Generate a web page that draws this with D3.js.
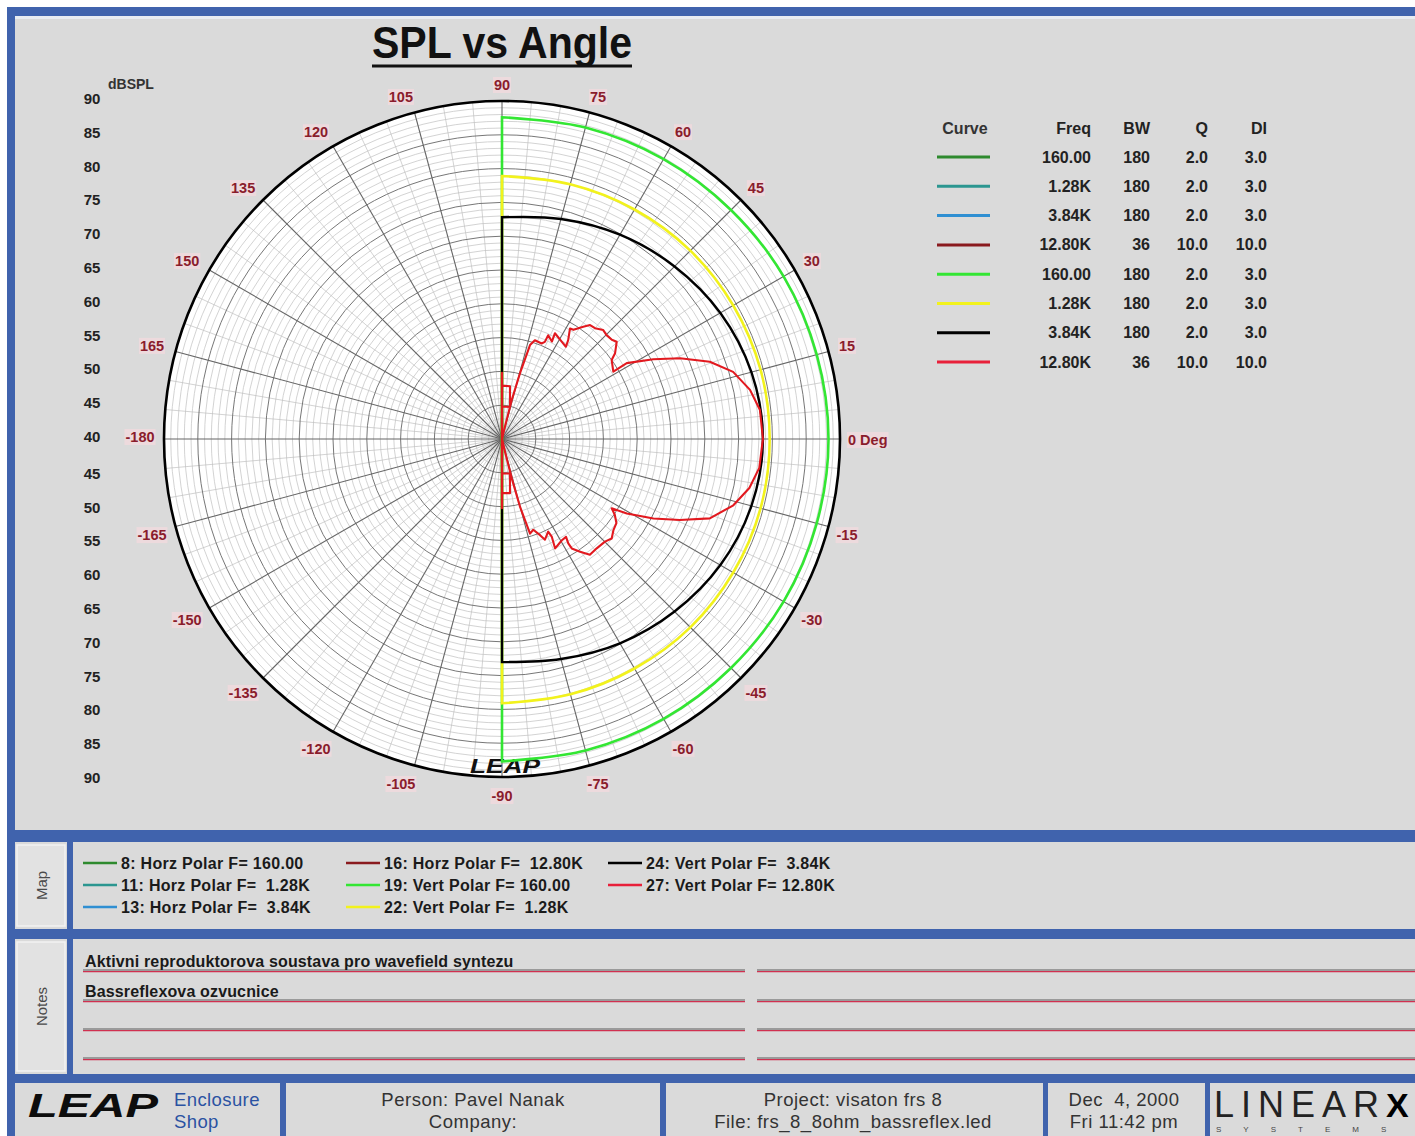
<!DOCTYPE html>
<html>
<head>
<meta charset="utf-8">
<script src="https://cdn.jsdelivr.net/npm/d3@7"></script>
<style>
  body { margin: 0; background: #ffffff; }
  svg { display: block; }
  text { font-family: "Liberation Sans", Arial, Helvetica, sans-serif; }
</style>
</head>
<body>
<svg id="chart" width="1415" height="1136"></svg>
<script>
// ---------- data ----------
const dbTicks = [90, 85, 80, 75, 70, 65, 60, 55, 50, 45, 40];
const angleTicks = [90, 75, 60, 45, 30, 15, 0, -15, -30, -45, -60, -75, -90,
                    -105, -120, -135, -150, -165, -180, 165, 150, 135, 120, 105];

// Front half sampled every 15 degrees (90 .. -90); the rear half sits at the 40 dB floor.
const curveAngles = [90, 75, 60, 45, 30, 15, 0, -15, -30, -45, -60, -75, -90];
const vert160 = [87.6, 87.7, 87.8, 87.9, 88.1, 88.2, 88.3, 88.2, 88.1, 87.9, 87.8, 87.7, 87.7];
const vert1k28 = [78.9, 79.0, 79.2, 79.4, 79.5, 79.6, 79.6, 79.6, 79.5, 79.4, 79.2, 79.1, 79.1];
const vert3k84 = [72.8, 73.7, 74.9, 76.1, 77.3, 78.2, 78.6, 78.2, 77.3, 76.1, 74.9, 73.7, 73.0];

// 12.8 kHz vertical polar traced as [angle, dBSPL] pairs.
const vert12k8 = [
  [90, 40], [90, 49.8], [90, 47.9], [81.4, 47.9], [76.0, 44.9], [90, 44.8], [90, 40],
  [76.7, 41.2], [76.0, 45.9], [74.7, 50.1], [73.4, 54.5], [71.6, 55.4], [67.5, 55.3],
  [66.2, 55.7], [66.0, 56.8], [62.9, 56.2], [63.4, 57.5], [58.5, 56.9], [55.3, 56.6],
  [56.2, 57.6], [58.4, 59.2], [56.8, 59.3], [54.1, 60.5], [52.3, 61.3], [50.0, 61.4],
  [47.1, 62.0], [44.8, 61.8], [42.1, 61.9], [40.3, 62.25], [37.2, 61.0], [35.8, 60.0],
  [31.2, 59.25], [31.3, 61.6], [27.8, 65.3], [24.4, 68.9], [20.4, 72.8], [16.2, 75.6],
  [11.2, 77.4], [6.4, 78.4], [0, 78.6],
  [-6.4, 78.3], [-11.2, 77.3], [-16.0, 75.6], [-20.9, 72.9], [-24.5, 68.9], [-27.7, 65.3],
  [-30.8, 61.5], [-32.3, 59.2], [-33.9, 60.1], [-36.3, 61.0], [-39.3, 61.3], [-42.2, 61.9],
  [-44.9, 61.5], [-49.1, 61.4], [-52.8, 61.5], [-55.3, 60.3], [-57.5, 59.2], [-57.6, 58.3],
  [-56.8, 57.3], [-59.4, 57.4], [-64.1, 58.0], [-63.0, 56.2], [-63.5, 55.3], [-66.9, 56.2],
  [-68.4, 55.3], [-71.0, 54.2], [-73.5, 54.6], [-75.1, 50.4], [-76.1, 46.0], [-76.7, 41.9],
  [-90, 40], [-90, 45.1], [-76.9, 45.2], [-81.6, 48.1], [-90, 48.0], [-90, 50.25], [-90, 40]
];

// Curve table / map legend
const curveIds = [8, 11, 13, 16, 19, 22, 24, 27];
const curvePlanes = ["Horz", "Horz", "Horz", "Horz", "Vert", "Vert", "Vert", "Vert"];
const freqLabels = ["160.00", "1.28K", "3.84K", "12.80K", "160.00", "1.28K", "3.84K", "12.80K"];
const mapFreqLabels = ["160.00", " 1.28K", " 3.84K", " 12.80K", "160.00", " 1.28K", " 3.84K", "12.80K"];
const bwValues = ["180", "180", "180", "36", "180", "180", "180", "36"];
const qValues = ["2.0", "2.0", "2.0", "10.0", "2.0", "2.0", "2.0", "10.0"];
const diValues = ["3.0", "3.0", "3.0", "10.0", "3.0", "3.0", "3.0", "10.0"];
const curveColors = ["#2e8a2e", "#2b9690", "#2f8fd2", "#8a1a1e", "#33e633", "#f2f21c", "#000000", "#e8203a"];

const notesLines = ["Aktivni reproduktorova soustava pro wavefield syntezu", "Bassreflexova ozvucnice", "", ""];

// ---------- frame ----------
const svg = d3.select("#chart");
const blue = "#4063ad";
const panel = "#dadada";

svg.append("rect").attr("x", 0).attr("y", 0).attr("width", 1415).attr("height", 1136).attr("fill", "#ffffff");
svg.append("rect").attr("x", 7).attr("y", 7).attr("width", 1408).attr("height", 1129).attr("fill", blue);
// main chart panel
svg.append("rect").attr("x", 15).attr("y", 16).attr("width", 1400).attr("height", 814).attr("fill", panel);
svg.append("rect").attr("x", 15).attr("y", 16).attr("width", 1400).attr("height", 3).attr("fill", "#e8ecf2");
// map panel
svg.append("rect").attr("x", 15).attr("y", 842).attr("width", 1400).attr("height", 87).attr("fill", panel);
// notes panel
svg.append("rect").attr("x", 15).attr("y", 939).attr("width", 1400).attr("height", 135).attr("fill", panel);
// vertical divider for map/notes tabs
svg.append("rect").attr("x", 67).attr("y", 842).attr("width", 6).attr("height", 87).attr("fill", blue);
svg.append("rect").attr("x", 67).attr("y", 939).attr("width", 6).attr("height", 135).attr("fill", blue);

// tabs
[[842, 87, "Map"], [939, 135, "Notes"]].forEach(([y, h, label]) => {
  svg.append("rect").attr("x", 17).attr("y", y + 3).attr("width", 48).attr("height", h - 6)
    .attr("fill", "#e2e2e2").attr("stroke", "#f2f2f2").attr("stroke-width", 1.5);
  svg.append("text").attr("transform", `translate(41,${y + h / 2}) rotate(-90)`)
    .attr("text-anchor", "middle").attr("dominant-baseline", "central")
    .attr("font-size", 15).attr("fill", "#4a4a4a").text(label);
});

// ---------- polar plot ----------
const cx = 502, cy = 439, R = 338;
const rScale = d3.scaleLinear().domain([40, 90]).range([0, R]).clamp(true);
const aScale = d3.scaleLinear().domain([0, 90]).range([Math.PI / 2, 0]);   // degrees -> d3 radial angle
const g = svg.append("g").attr("transform", `translate(${cx},${cy})`);

g.append("circle").attr("r", R).attr("fill", "#ffffff");

// minor rings every 1 dB
g.selectAll("circle.minor").data(d3.range(41, 90).filter(d => d % 5 !== 0)).join("circle")
  .attr("class", "minor").attr("r", d => rScale(d)).attr("fill", "none")
  .attr("stroke", "#c0c0c0").attr("stroke-width", 0.7);
// minor spokes every 5 degrees
g.selectAll("line.minor").data(d3.range(0, 360, 5).filter(d => d % 15 !== 0)).join("line")
  .attr("class", "minor")
  .attr("x1", 0).attr("y1", 0)
  .attr("x2", d => R * Math.sin(aScale(d))).attr("y2", d => -R * Math.cos(aScale(d)))
  .attr("stroke", "#c0c0c0").attr("stroke-width", 0.7);
// major rings every 5 dB
g.selectAll("circle.major").data(d3.range(45, 90, 5)).join("circle")
  .attr("class", "major").attr("r", d => rScale(d)).attr("fill", "none")
  .attr("stroke", "#777").attr("stroke-width", 1);
// major spokes every 15 degrees
g.selectAll("line.major").data(d3.range(0, 360, 15)).join("line")
  .attr("class", "major")
  .attr("x1", 0).attr("y1", 0)
  .attr("x2", d => R * Math.sin(aScale(d))).attr("y2", d => -R * Math.cos(aScale(d)))
  .attr("stroke", "#666").attr("stroke-width", 1.1);

// watermark
g.append("text").attr("x", 3).attr("y", 334).attr("text-anchor", "middle")
  .attr("font-size", 21).attr("font-weight", 900).attr("font-style", "italic")
  .attr("textLength", 70).attr("lengthAdjust", "spacingAndGlyphs")
  .attr("fill", "#111").text("LEAP");

// outer boundary
g.append("circle").attr("r", R).attr("fill", "none").attr("stroke", "#000").attr("stroke-width", 2.6);

// curves
const radial = d3.lineRadial().angle(d => aScale(d[0])).radius(d => rScale(d[1]));
function frontCurve(vals) {
  const pts = curveAngles.map((a, i) => [a, vals[i]]);
  const arc = radial.curve(d3.curveCatmullRom)(pts);
  return "M0,0L" + arc.slice(1) + "L0,0";
}
g.append("path").attr("d", frontCurve(vert160)).attr("fill", "none")
  .attr("stroke", curveColors[4]).attr("stroke-width", 2.6);
g.append("path").attr("d", frontCurve(vert1k28)).attr("fill", "none")
  .attr("stroke", curveColors[5]).attr("stroke-width", 2.6);
g.append("path").attr("d", frontCurve(vert3k84)).attr("fill", "none")
  .attr("stroke", curveColors[6]).attr("stroke-width", 2.4);
g.append("path").attr("d", radial.curve(d3.curveLinear)(vert12k8)).attr("fill", "none")
  .attr("stroke", "#e2191f").attr("stroke-width", 2.1).attr("stroke-linejoin", "round");

// angle labels: front labels sit just outside the rim, rear labels a little further out
const angleG = g.append("g");
angleTicks.forEach(a => {
  const ang = aScale(a);
  const c = Math.sin(ang), s = Math.cos(ang);        // cos/sin of the math angle
  const dx = c > 0.01 ? 5 : (c < -0.01 ? -10 : 0);
  const dy = s < -0.01 ? 5 : -2;
  const isZero = a === 0;
  const t = angleG.append("text")
    .attr("x", isZero ? 346 : 352 * c + dx).attr("y", isZero ? 1 : -352 * s + dy)
    .attr("text-anchor", isZero ? "start" : "middle").attr("dominant-baseline", "central")
    .attr("font-size", 14.5).attr("font-weight", "bold").attr("fill", "#8a1c2c")
    .text(isZero ? "0 Deg" : String(a));
  const bb = t.node().getBBox();
  angleG.insert("rect", "text").attr("x", bb.x - 1).attr("y", bb.y).attr("width", bb.width + 2)
    .attr("height", bb.height).attr("fill", "#f1dadd").attr("opacity", 0.8);
});

// dB scale on the left
const dbLabels = dbTicks.map(v => ({ v, y: cy - rScale(v) - 2.5 }))
  .concat(dbTicks.slice(0, -1).reverse().map(v => ({ v, y: cy + rScale(v) + 0.5 })));
svg.append("g").selectAll("text").data(dbLabels).join("text")
  .attr("x", 92).attr("y", d => d.y).attr("text-anchor", "middle").attr("dominant-baseline", "central")
  .attr("font-size", 15).attr("font-weight", "bold").attr("fill", "#222").text(d => d.v);
svg.append("text").attr("x", 108).attr("y", 89).attr("font-size", 14).attr("font-weight", 600)
  .attr("fill", "#333").text("dBSPL");

// title
svg.append("text").attr("x", 502).attr("y", 58).attr("text-anchor", "middle")
  .attr("font-size", 44).attr("font-weight", "bold").attr("fill", "#111")
  .attr("textLength", 260).attr("lengthAdjust", "spacingAndGlyphs").text("SPL vs Angle");
svg.append("line").attr("x1", 372).attr("x2", 632).attr("y1", 66).attr("y2", 66)
  .attr("stroke", "#111").attr("stroke-width", 3);

// ---------- curve table ----------
const tbl = svg.append("g");
const rowY = i => 157 + i * 29.3;
const headers = [["Curve", 965, "middle"], ["Freq", 1091, "end"], ["BW", 1150, "end"], ["Q", 1208, "end"], ["DI", 1267, "end"]];
headers.forEach(([h, x, anchor]) => {
  tbl.append("text").attr("x", x).attr("y", 128).attr("text-anchor", anchor).attr("dominant-baseline", "central")
    .attr("font-size", 16).attr("font-weight", "bold").attr("fill", h === "Curve" ? "#333" : "#222").text(h);
});
curveIds.forEach((id, i) => {
  tbl.append("line").attr("x1", 937).attr("x2", 990).attr("y1", rowY(i)).attr("y2", rowY(i))
    .attr("stroke", curveColors[i]).attr("stroke-width", 3);
  [[freqLabels[i], 1091], [bwValues[i], 1150], [qValues[i], 1208], [diValues[i], 1267]].forEach(([v, x]) => {
    tbl.append("text").attr("x", x).attr("y", rowY(i)).attr("text-anchor", "end").attr("dominant-baseline", "central")
      .attr("font-size", 16).attr("font-weight", "bold").attr("fill", "#222").text(v);
  });
});

// ---------- map legend ----------
const mapCols = [83, 346, 608];
const mapRows = [863, 885, 907];
curveIds.forEach((id, i) => {
  const col = Math.floor(i / 3), row = i % 3;
  const x = mapCols[col], y = mapRows[row];
  svg.append("line").attr("x1", x).attr("x2", x + 34).attr("y1", y).attr("y2", y)
    .attr("stroke", curveColors[i]).attr("stroke-width", 2.5);
  svg.append("text").attr("x", x + 38).attr("y", y).attr("dominant-baseline", "central")
    .attr("font-size", 16).attr("font-weight", "bold").attr("letter-spacing", 0.3).attr("fill", "#1a1a1a")
    .style("white-space", "pre")
    .text(`${id}: ${curvePlanes[i]} Polar F= ${mapFreqLabels[i]}`);
});

// ---------- notes ----------
const noteRows = [970, 1000, 1029, 1058];
noteRows.forEach((y, i) => {
  [[83, 745], [757, 1415]].forEach(([x1, x2]) => {
    svg.append("line").attr("x1", x1).attr("x2", x2).attr("y1", y).attr("y2", y)
      .attr("stroke", "#5a5a5a").attr("stroke-width", 1.2);
    svg.append("line").attr("x1", x1).attr("x2", x2).attr("y1", y + 1.6).attr("y2", y + 1.6)
      .attr("stroke", "#d03050").attr("stroke-width", 1.3);
  });
  if (notesLines[i]) {
    svg.append("text").attr("x", 85).attr("y", y - 3).attr("font-size", 16).attr("font-weight", 600)
      .attr("letter-spacing", 0.15).attr("fill", "#1a1a1a").text(notesLines[i]);
  }
});

// ---------- footer ----------
const footY = 1083;
svg.append("rect").attr("x", 15).attr("y", footY).attr("width", 1400).attr("height", 53).attr("fill", panel);
[[280, 6], [660, 6], [1043, 5], [1205, 5]].forEach(([x, w]) => {
  svg.append("rect").attr("x", x).attr("y", footY).attr("width", w).attr("height", 53).attr("fill", blue);
});
svg.append("text").attr("x", 28).attr("y", 1117).attr("font-size", 34).attr("font-weight", 900)
  .attr("font-family", "'DejaVu Sans', sans-serif").attr("font-style", "italic")
  .attr("textLength", 130).attr("lengthAdjust", "spacingAndGlyphs").attr("fill", "#0d0d0d").text("LEAP");
svg.append("text").attr("x", 174).attr("y", 1106).attr("font-size", 18.5).attr("letter-spacing", 0.4)
  .attr("fill", "#2a52a2").text("Enclosure");
svg.append("text").attr("x", 174).attr("y", 1128).attr("font-size", 18.5).attr("letter-spacing", 0.4)
  .attr("fill", "#2a52a2").text("Shop");

const footCells = [
  [473, "Person: Pavel Nanak", "Company:"],
  [853, "Project: visaton frs 8", "File: frs_8_8ohm_bassreflex.led"],
  [1124, "Dec  4, 2000", "Fri 11:42 pm"]
];
footCells.forEach(([x, a, b]) => {
  svg.append("text").attr("x", x).attr("y", 1106).attr("text-anchor", "middle").attr("font-size", 18.5)
    .attr("letter-spacing", 0.5).attr("fill", "#333").style("white-space", "pre").text(a);
  svg.append("text").attr("x", x).attr("y", 1128).attr("text-anchor", "middle").attr("font-size", 18.5)
    .attr("letter-spacing", 0.5).attr("fill", "#333").style("white-space", "pre").text(b);
});
svg.append("text").attr("x", 1214).attr("y", 1117).attr("font-family", "'Liberation Serif', 'DejaVu Serif', serif")
  .attr("font-size", 36).attr("fill", "#222").attr("letter-spacing", 7).text("LINEAR");
svg.append("text").attr("x", 1386).attr("y", 1117).attr("font-family", "'DejaVu Sans', sans-serif")
  .attr("font-size", 34).attr("font-weight", "bold").attr("fill", "#000").text("X");
svg.append("text").attr("x", 1216).attr("y", 1132).attr("font-size", 8).attr("fill", "#444")
  .attr("letter-spacing", 22).text("SYSTEMS");
</script>
</body>
</html>
